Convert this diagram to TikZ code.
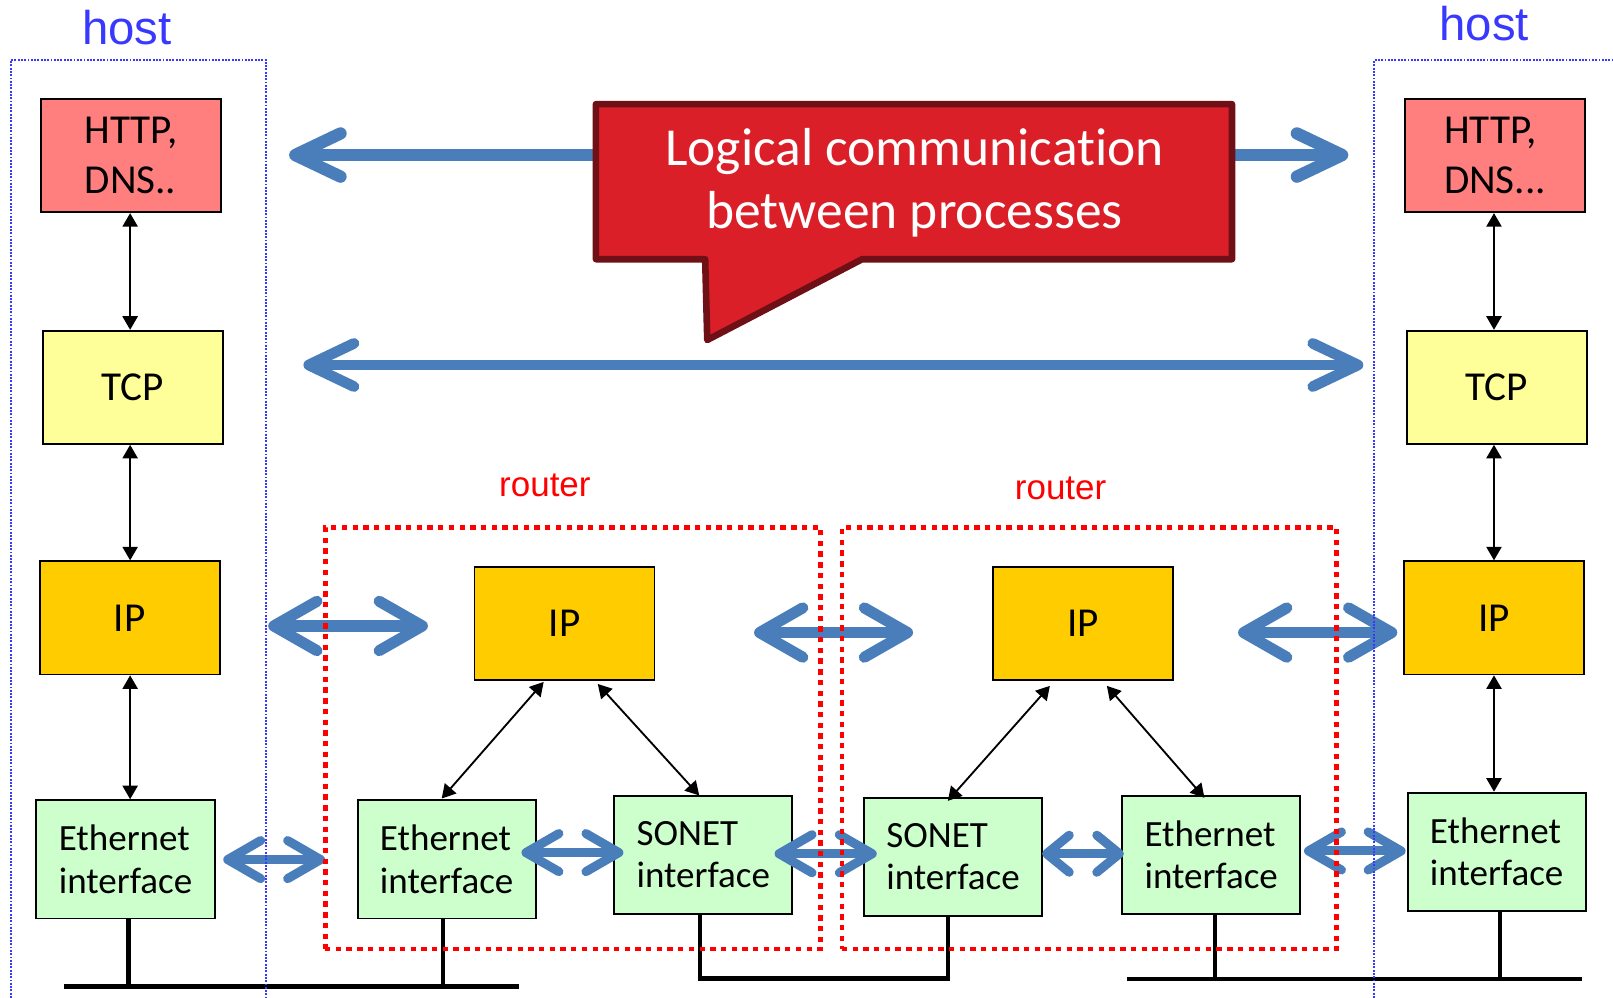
\documentclass[tikz,border=0pt]{standalone}
\usepackage{fontspec}
\setmainfont{Carlito}[Ligatures=NoCommon]
\newfontfamily\arialfont{Liberation Sans}
\usetikzlibrary{arrows.meta,calc}
\definecolor{appred}{HTML}{FF7F7F}
\definecolor{tcpyellow}{HTML}{FFFF99}
\definecolor{ipgold}{HTML}{FFCC00}
\definecolor{linkgreen}{HTML}{CCFFCC}
\definecolor{arrowblue}{HTML}{4A7EBB}
\definecolor{calloutfill}{HTML}{DA1F28}
\definecolor{calloutedge}{HTML}{6E1015}
\definecolor{hostblue}{HTML}{3838FF}
\definecolor{routerred}{HTML}{FF0000}
\tikzset{
  box/.style={draw=black, line width=0.9pt, minimum width=87.5pt, minimum height=55pt,
    inner sep=0pt, font=\fontsize{20}{24.3}\selectfont, align=center},
  appbox/.style={box, fill=appred, align=left},
  tcpbox/.style={box, fill=tcpyellow},
  ipbox/.style={box, fill=ipgold},
  linkbox/.style={box, fill=linkgreen, minimum width=86.6pt, minimum height=57.5pt,
    font=\fontsize{18}{20.5}\selectfont, align=left},
  thinlink/.style={draw=black, line width=0.9pt,
    {Triangle[length=6.6pt,width=7.4pt]}-{Triangle[length=6.6pt,width=7.4pt]}},
  bigarrow/.style n args={3}{draw=arrowblue, line width=#1,
    {Straight Barb[length=#2,width=#3,round]}-{Straight Barb[length=#2,width=#3,round]}},
  bus/.style={draw=black, line width=2pt},
  hostline/.style={draw=hostblue, line width=0.9pt, dash pattern=on 0.9pt off 0.7pt},
  routerbox/.style={draw=routerred, line width=2.4pt, dash pattern=on 2.6pt off 2.6pt,
    minimum height=204.75pt, inner sep=0pt},
  hostlabel/.style={text=hostblue, font=\arialfont\fontsize{23}{27}\selectfont, inner sep=0pt, anchor=base},
  routerlabel/.style={text=routerred, font=\arialfont\fontsize{17}{20}\selectfont, inner sep=0pt, anchor=base},
  calloutshape/.style={fill=calloutfill, draw=calloutedge, line width=3.2pt, line join=round},
  callouttext/.style={text=white, font=\fontsize{26}{30.8}\selectfont, align=center, inner sep=0pt}
}
\begin{document}
\begin{tikzpicture}[x=0.5pt,y=-0.5pt]
\useasboundingbox (0,0) rectangle (1568,970);

% labels
\node[hostlabel] (hostL) at (123.4,43.7) {host};
\node[hostlabel] (hostR) at (1442.7,39.5) {host};
\node[routerlabel] (rtrA) at (529.7,482.8) {router};
\node[routerlabel] (rtrB) at (1031,486) {router};

% top arrow (behind callout)
\coordinate (topL) at (281,150.7);
\coordinate (topR) at (1310.7,150.7);
\draw[bigarrow={6pt}{22pt}{21pt}] (topL) -- (topR);

% callout
\draw[calloutshape] (579.3,101.2) -- (1197.6,101.2) -- (1197.6,252) -- (838,252)
  -- (687.5,330.5) -- (685.5,252) -- (579.3,252) -- cycle;
\node[callouttext] (logic) at (889,177.7) {Logical communication\\between processes};

% second long arrow
\coordinate (tcpArrL) at (294.9,354.8);
\coordinate (tcpArrR) at (1325.3,354.8);
\draw[bigarrow={5.2pt}{22pt}{21pt}] (tcpArrL) -- (tcpArrR);

% host left
\node[appbox] (httpL) at (127.4,151.3) {HTTP,\\DNS..};
\node[tcpbox] (tcpL) at (129,376.5) {TCP};
\node[ipbox] (ipL) at (126,600.6) {IP};
\node[linkbox] (ethL) at (122,835.3) {Ethernet\\interface};

% host right
\node[appbox] (httpR) at (1453.3,151.3) {HTTP,\\DNS...};
\node[tcpbox] (tcpR) at (1455.1,376.5) {TCP};
\node[ipbox] (ipR) at (1452.3,600.6) {IP};
\node[linkbox] (ethR) at (1454.9,828) {Ethernet\\interface};

% router 1
\node[ipbox] (ipA) at (548.8,606.3) {IP};
\node[linkbox] (ethA) at (434.2,835.3) {Ethernet\\interface};
\node[linkbox] (sonA) at (683.7,830.9) {SONET\\interface};

% router 2
\node[ipbox] (ipB) at (1052.9,606.3) {IP};
\node[linkbox] (sonB) at (926.4,832.9) {SONET\\interface};
\node[linkbox] (ethB) at (1177.4,830.9) {Ethernet\\interface};

% thin vertical arrows in hosts
\coordinate (colL) at (126.5,0);
\coordinate (colR) at (1452.3,0);
\draw[thinlink] (httpL.south -| colL) -- (tcpL.north -| colL);
\draw[thinlink] (tcpL.south -| colL) -- (ipL.north -| colL);
\draw[thinlink] (ipL.south -| colL) -- (ethL.north -| colL);
\draw[thinlink] (httpR.south -| colR) -- (tcpR.north -| colR);
\draw[thinlink] (tcpR.south -| colR) -- (ipR.north -| colR);
\draw[thinlink] (ipR.south -| colR) -- (ethR.north -| colR);

% thin diagonal arrows in routers
\draw[thinlink] ($(ipA.south)+(-20.3,0.7)$) -- ($(ethA.north)+(-4.8,-0.7)$);
\draw[thinlink] ($(ipA.south)+(32.3,2.7)$) -- ($(sonA.north)+(-4,0.7)$);
\draw[thinlink] ($(ipB.south)+(-32.3,4.5)$) -- ($(sonB.north)+(-5,4)$);
\draw[thinlink] ($(ipB.south)+(23.1,4.5)$) -- ($(ethB.north)+(-6.6,3)$);

% thick blue arrows between IP layers
\coordinate (n1L) at (260.7,608.5); \coordinate (n1R) at (416,608.5);
\coordinate (n2L) at (733,614.9);   \coordinate (n2R) at (887.6,614.9);
\coordinate (n3L) at (1203.5,614.9); \coordinate (n3R) at (1358.3,614.9);
\draw[bigarrow={5.4pt}{21pt}{24pt}] (n1L) -- (n1R);
\draw[bigarrow={5.4pt}{21pt}{24pt}] (n2L) -- (n2R);
\draw[bigarrow={5.4pt}{21pt}{24pt}] (n3L) -- (n3R);

% thick blue arrows between link layers
\coordinate (l1L) at (217,835.6);   \coordinate (l1R) at (316,835.6);
\coordinate (l2L) at (506.9,828.8); \coordinate (l2R) at (606,828.8);
\coordinate (l3L) at (753,829.9);   \coordinate (l3R) at (852.3,829.9);
\coordinate (l4L) at (1013,829.9);  \coordinate (l4R) at (1092.6,829.9);
\coordinate (l5L) at (1267.6,827.2); \coordinate (l5R) at (1366.4,827.2);
\draw[bigarrow={4.4pt}{16pt}{18.5pt}] (l1L) -- (l1R);
\draw[bigarrow={4.4pt}{16pt}{18.5pt}] (l2L) -- (l2R);
\draw[bigarrow={4.4pt}{16pt}{18.5pt}] (l3L) -- (l3R);
\draw[bigarrow={4.4pt}{11pt}{18pt}] (l4L) -- (l4R);
\draw[bigarrow={4.4pt}{16pt}{18.5pt}] (l5L) -- (l5R);

% physical links
\coordinate (busA1) at (62,959);  \coordinate (busA2) at (504.8,959);
\coordinate (busB1) at (680.7,951.2); \coordinate (busB2) at (921.4,951.2);
\coordinate (busC1) at (1095.2,952); \coordinate (busC2) at (1537.8,952);
\coordinate (xa) at (124.9,0); \coordinate (xb) at (431,0);
\coordinate (xe) at (1180.9,0); \coordinate (xf) at (1458.2,0);
\draw[bus] (busA1) -- (busA2);
\draw[bus] (ethL.south -| xa) -- (busA1 -| xa);
\draw[bus] (ethA.south -| xb) -- (busA1 -| xb);
\draw[bus] (sonA.south -| busB1) -- (busB1) -- (busB2) -- (sonB.south -| busB2);
\draw[bus] (busC1) -- (busC2);
\draw[bus] (ethB.south -| xe) -- (busC1 -| xe);
\draw[bus] (ethR.south -| xf) -- (busC1 -| xf);

% router boxes
\node[routerbox, minimum width=241pt] (routerA) at (557,717.75) {};
\node[routerbox, minimum width=240.5pt] (routerB) at (1059,717.75) {};

% host boxes (dotted, open at bottom / right)
\draw[hostline] (10.5,970) -- (10.5,58.3) -- (258.6,58.3) -- (258.6,970);
\draw[hostline] (1336,970) -- (1336,58.3) -- (1568,58.3);
\end{tikzpicture}
\end{document}
